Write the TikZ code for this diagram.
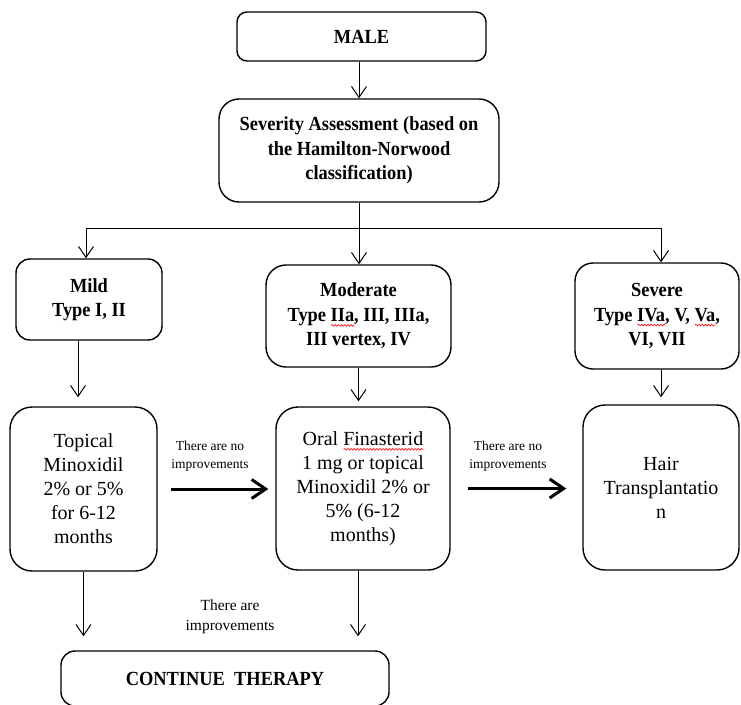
\documentclass[tikz,border=0pt]{standalone}
\usepackage{fontspec}
\setmainfont{Liberation Serif}[BoldFeatures={FakeStretch=0.92}]
\usetikzlibrary{arrows.meta, positioning, decorations.pathmorphing}
\newsavebox\wavebox
\newcommand\spellwave[1]{\sbox\wavebox{#1}\rlap{\tikz[baseline=0pt, sharp corners, x=1pt, y=1pt]\draw[red, line width=0.6pt, decorate, decoration={snake, amplitude=0.9pt, segment length=3.2pt}] (0,-4) -- (\the\wd\wavebox,-4);}\usebox\wavebox}
\tikzstyle{topbox} = [draw, line width=1.4pt, rounded corners=14pt, font=\bfseries\fontsize{20}{24.5}\selectfont, align=center, inner sep=0pt]
\tikzstyle{treatbox} = [draw, line width=1.4pt, rounded corners=22pt, font=\fontsize{20}{24}\selectfont, align=center, inner sep=0pt]
\tikzstyle{arrow} = [line width=1pt, -{Straight Barb[length=11pt,width=15pt]}]
\tikzstyle{bigarrow} = [line width=3pt, -{Straight Barb[length=14pt,width=19pt]}]
\tikzstyle{note} = [font=\fontsize{13.5}{18}\selectfont, align=center]

\begin{document}
\begin{tikzpicture}[x=1pt, y=-1pt]
        \clip (0,0) rectangle (741,704);

        % Top of the chart
        \node[topbox, minimum width=249pt, minimum height=49pt, rounded corners=10pt] (male) at (361.5,36.5) {MALE};
        \node[topbox, minimum width=280pt, minimum height=103pt, rounded corners=20pt] (assess) at (359,150.5) {Severity Assessment (based on\\the Hamilton-Norwood\\classification)};

        % Severity classes
        \node[topbox, minimum width=146pt, minimum height=81pt] (mild) at (89,299.5) {Mild\\Type I, II};
        \node[topbox, minimum width=185pt, minimum height=102pt, rounded corners=20pt] (moderate) at (358.5,316) {Moderate\\Type \spellwave{IIa}, III, IIIa,\\III vertex, IV};
        \node[topbox, minimum width=164pt, minimum height=106pt, rounded corners=18pt] (severe) at (657,316) {Severe\\Type \spellwave{IVa}, V, \spellwave{Va},\\VI, VII};

        % Treatments
        \node[treatbox, minimum width=147pt, minimum height=164pt] (topical) at (83.5,489) {Topical\\Minoxidil\\2\% or 5\%\\for 6-12\\months};
        \node[treatbox, minimum width=174pt, minimum height=163pt] (oral) at (363,488.5) {Oral \spellwave{Finasterid}\\1 mg or topical\\Minoxidil 2\% or\\5\% (6-12\\months)};
        \node[treatbox, minimum width=156pt, minimum height=165pt] (hair) at (661,487.5) {Hair\\Transplantatio\\n};
        \node[topbox, minimum width=328pt, minimum height=55pt] (cont) at (225,678.5) {CONTINUE\ \ THERAPY};

        % Labels
        \node[note] (nolabelA) at (210,456) {There are no\\improvements};
        \node[note] (nolabelB) at (508,456) {There are no\\improvements};
        \node[note, font=\fontsize{15.5}{20}\selectfont] (yeslabel) at (230,617) {There are\\improvements};

        % Connectors
        \draw[arrow] (assess.north |- male.south) -- (assess.north);
        \coordinate (busL) at (86,228);
        \coordinate (busR) at (661,228);
        \draw[line width=1pt] (busL) -- (busR);
        \draw[arrow] (busL) -- (busL |- mild.north);
        \draw[arrow] (assess.south) -- (assess.south |- moderate.north);
        \draw[arrow] (busR) -- (busR |- severe.north);
        \draw[arrow, shorten >=9pt] ([xshift=-11pt]mild.south) -- ([xshift=-11pt]mild.south |- topical.north);
        \draw[arrow, shorten >=5pt] (moderate.south) -- (moderate.south |- oral.north);
        \draw[arrow, shorten >=7pt] (hair.north |- severe.south) -- (hair.north);
        \draw[arrow, shorten >=14pt] (topical.south) -- (topical.south |- cont.north);
        \draw[arrow, shorten >=14pt] ([xshift=-5pt]oral.south) -- ([xshift=-5pt]oral.south |- cont.north);
        \draw[bigarrow, shorten <=13pt, shorten >=7pt] (topical.east) -- (topical.east -| oral.west);
        \draw[bigarrow, shorten <=17pt, shorten >=16pt] (oral.east) -- (oral.east -| hair.west);

    \end{tikzpicture}
\end{document}
